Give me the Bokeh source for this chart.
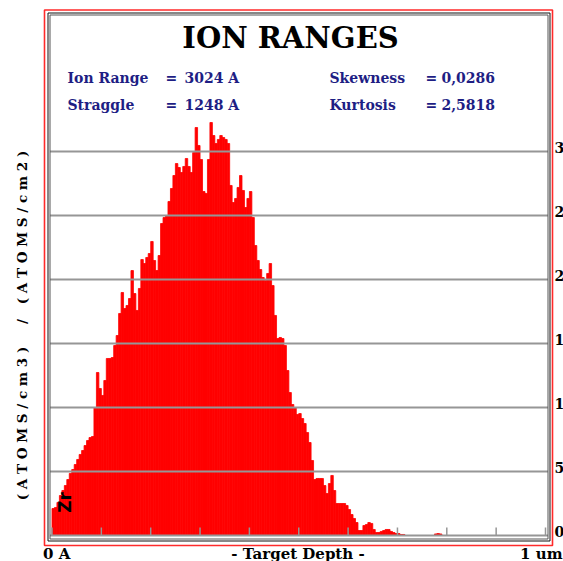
import math
from bokeh.plotting import figure
from bokeh.models import ColumnDataSource, Label, Range1d
from bokeh.embed import file_html
from bokeh.resources import INLINE

# ---------------- data ----------------
bin_width = 50  # Angstrom per depth bin (0 .. 10000 A = 1 um)
counts = [
    2110, 2190, 2580, 3125, 3515, 3905, 4375, 4845, 5155, 5545,
    5940, 6330, 6640, 7030, 7420, 7655, 7735, 10000, 12735, 11485,
    10940, 12110, 13830, 13830, 13905, 14845, 15625, 17345, 18985, 17735,
    17970, 18515, 20700, 18905, 17580, 19300, 21560, 21250, 21720, 22030,
    22970, 21485, 20700, 21875, 24375, 24845, 25000, 26095, 27110, 28125,
    29060, 28750, 28360, 28830, 29455, 28830, 28360, 29920, 31875, 30470,
    29375, 26875, 26720, 29375, 32265, 31250, 30625, 30940, 31250, 31095,
    30940, 30625, 27345, 26015, 26330, 27190, 28125, 26955, 25625, 26330,
    26875, 24845, 22655, 21485, 20780, 20155, 19920, 20470, 21250, 19530,
    17190, 15390, 15470, 15390, 14845, 12890, 11170, 10235, 10000, 9455,
    9530, 9140, 8750, 8045, 7265, 5860, 4375, 4455, 4455, 4455,
    3905, 3280, 4060, 4690, 3515, 2500, 2500, 2500, 2500, 2345,
    2030, 1640, 1330, 1015, 390, 390, 780, 860, 1015, 940,
    470, 235, 235, 315, 390, 470, 470, 315, 235, 155,
    155, 80, 80, 0, 0, 0, 0, 0, 0, 0,
    0, 0, 0, 0, 0, 120, 155, 120, 0, 0,
    0, 0, 0, 0, 0, 0, 0, 0, 0, 0,
    0, 0, 0, 0, 0, 0, 0, 0, 0, 0,
    0, 0, 0, 0, 0, 0, 0, 0, 0, 0,
    0, 0, 0, 0, 0, 0, 0, 0, 0, 0,
]
y_ticks = [0, 5000, 10000, 15000, 20000, 25000, 30000]
y_tick_labels = ["0", "5", "1", "1", "2", "2", "3"]   # visible (cropped) right-hand labels
x_ticks = [0, 1000, 2000, 3000, 4000, 5000, 6000, 7000, 8000, 9000, 10000]
x_labels = ["0 A", "- Target Depth -", "1 um"]
title_text = "ION RANGES"
stat_names_left = ["Ion Range", "Straggle"]
stat_values_left = ["3024 A", "1248 A"]
stat_names_right = ["Skewness", "Kurtosis"]
stat_values_right = ["0,0286", "2,5818"]
ylabel_parts = ["( A T O M S / c m 3 )", "/", "( A T O M S / c m 2 )"]
ion_name = "Zr"

# ---------------- geometry (canvas pixels) ----------------
W, H = 563, 561
PX0, PX1 = 51.5, 545.0     # pixel x of depth 0 and 10000 A
PY0, PY30 = 535.0, 151.0   # pixel y of value 0 and 30000

ax = (PX1 - PX0) / 10000.0
ay = (PY0 - PY30) / 30000.0
x0 = -PX0 / ax
x1 = 10000 + (W - PX1) / ax
y0 = -(H - PY0) / ay
y1 = PY0 / ay


def DX(X):
    return x0 + X / ax


def DY(Y):
    return y0 + (H - Y) / ay


p = figure(width=W, height=H, x_range=Range1d(x0, x1), y_range=Range1d(y0, y1),
           min_border=0, x_axis_location=None, y_axis_location=None,
           toolbar_location=None, output_backend="svg")
for g in p.grid:
    g.visible = False
p.background_fill_color = "white"
p.border_fill_color = "white"
p.outline_line_color = None

# bars (only non-empty bins)
lefts, rights, tops = [], [], []
for i, c in enumerate(counts):
    if c > 0:
        lefts.append(i * bin_width)
        rights.append((i + 1) * bin_width)
        tops.append(c)
src = ColumnDataSource(dict(left=lefts, right=rights, top=tops, bottom=[0] * len(tops)))
p.quad(left="left", right="right", top="top", bottom="bottom", source=src,
       fill_color="#ff0000", line_color="#ff0000", line_width=0.8)

# grid lines drawn over the bars
p.segment(x0=[DX(49.5)] * len(y_ticks), x1=[DX(547.5)] * len(y_ticks), y0=y_ticks, y1=y_ticks,
          line_color="#969696", line_width=2)
# bottom tick marks
tick_h = DY(527)
p.segment(x0=x_ticks, x1=x_ticks, y0=[0] * len(x_ticks), y1=[tick_h] * len(x_ticks),
          line_color="#969696", line_width=1.5)

# red outer border and inner double frame
p.quad(left=[DX(44)], right=[DX(552)], top=[DY(9.5)], bottom=[DY(545)],
       fill_color=None, line_color="#ff2a2a", line_width=1.6)
p.quad(left=[DX(47.5)], right=[DX(549.5)], top=[DY(12.5)], bottom=[DY(540.5)],
       fill_color=None, line_color="#111111", line_width=1)
p.quad(left=[DX(49.5)], right=[DX(547.5)], top=[DY(14.5)], bottom=[DY(538.5)],
       fill_color=None, line_color="#555555", line_width=1)

SERIF = "DejaVu Serif"


def add_label(x, y, text, size, color="black", align="left", baseline="middle",
              angle=0.0, font=SERIF):
    p.add_layout(Label(x=x, y=y, text=text, text_font=font, text_font_style="bold",
                       text_font_size=f"{size:.1f}px", text_color=color,
                       text_align=align, text_baseline=baseline, angle=angle))


# title & statistics
add_label(DX(290), DY(37), title_text, 29, align="center")
navy = "#1e1e84"
for k, mid in enumerate([77, 104]):
    add_label(DX(67), DY(mid), stat_names_left[k], 14, navy)
    add_label(DX(165), DY(mid), "=", 14, navy)
    add_label(DX(184), DY(mid), stat_values_left[k], 14, navy)
    add_label(DX(329), DY(mid), stat_names_right[k], 14, navy)
    add_label(DX(425), DY(mid), "=", 14, navy)
    add_label(DX(441), DY(mid), stat_values_right[k], 14, navy)

# left vertical axis label
for part, cy in zip(ylabel_parts, [423, 321, 227]):
    add_label(DX(21), DY(cy), part, 13.5, align="center", angle=math.pi / 2)

# ion label
add_label(DX(64), DY(502), ion_name, 17, align="center", angle=math.pi / 2,
          font="DejaVu Sans")

# right tick labels (cropped in the original)
lab_off = 4.5 / ay
for v, t in zip(y_ticks, y_tick_labels):
    add_label(DX(554), v + lab_off, t, 14)

# bottom labels
add_label(DX(42.5), DY(553), x_labels[0], 15)
add_label(DX(297.5), DY(553), x_labels[1], 15, align="center")
add_label(DX(562), DY(553), x_labels[2], 15, align="right")

open("out.html", "w").write(file_html(p, INLINE))
